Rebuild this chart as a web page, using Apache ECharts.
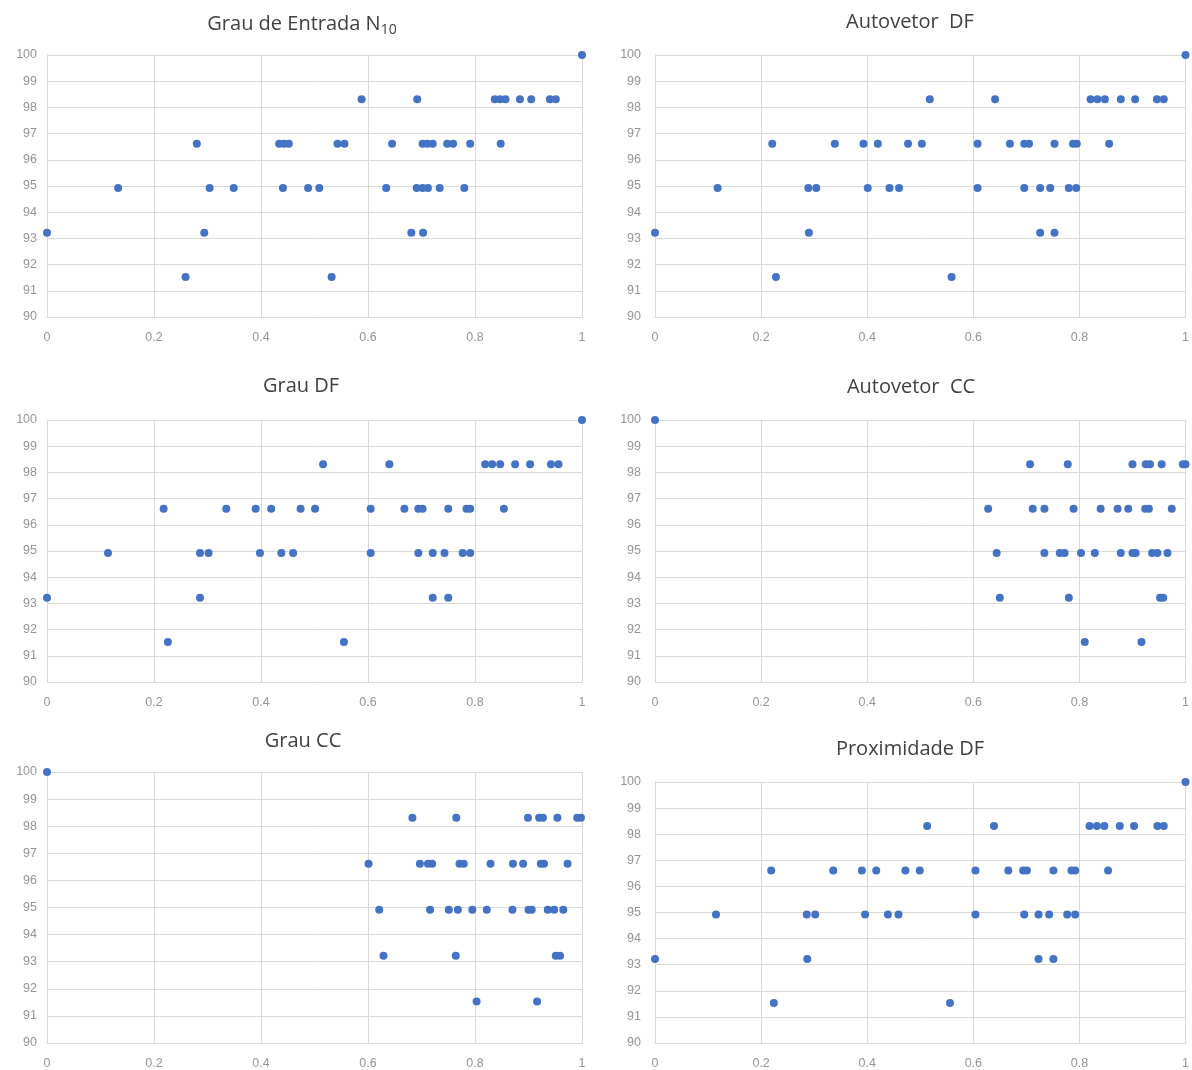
<!DOCTYPE html>
<html>
<head>
<meta charset="utf-8">
<script src="https://cdn.jsdelivr.net/npm/echarts@6/dist/echarts.min.js"></script>
<style>
  html, body { margin: 0; padding: 0; background: #ffffff; }
  #chart { width: 1192px; height: 1070px; }
</style>
</head>
<body>
<div id="chart"></div>
<script>
// Accuracy levels (y values), one row of x-values per level in each chart below
const levels = [100, 98.31, 96.61, 94.92, 93.22, 91.53];

// x tick labels / y range
const xTicks = ['0', '0.2', '0.4', '0.6', '0.8', '1'];
const yMin = 90, yMax = 100;

// Grau de Entrada N10
const grauEntradaN10 = [
  [1],
  [0.588, 0.692, 0.837, 0.847, 0.857, 0.884, 0.905, 0.940, 0.951],
  [0.280, 0.434, 0.443, 0.452, 0.543, 0.556, 0.645, 0.702, 0.711, 0.721, 0.748, 0.759, 0.791, 0.848],
  [0.133, 0.304, 0.349, 0.441, 0.488, 0.509, 0.634, 0.691, 0.702, 0.712, 0.734, 0.780],
  [0, 0.294, 0.681, 0.703],
  [0.259, 0.532]
];

// Autovetor DF
const autovetorDF = [
  [1],
  [0.518, 0.641, 0.821, 0.834, 0.848, 0.878, 0.905, 0.946, 0.959],
  [0.221, 0.339, 0.393, 0.420, 0.477, 0.503, 0.608, 0.669, 0.696, 0.705, 0.753, 0.788, 0.795, 0.856],
  [0.118, 0.289, 0.304, 0.401, 0.442, 0.460, 0.608, 0.696, 0.726, 0.745, 0.780, 0.794],
  [0, 0.290, 0.726, 0.753],
  [0.228, 0.559]
];

// Grau DF
const grauDF = [
  [1],
  [0.516, 0.640, 0.819, 0.832, 0.847, 0.875, 0.903, 0.942, 0.956],
  [0.218, 0.335, 0.390, 0.419, 0.474, 0.501, 0.605, 0.668, 0.694, 0.702, 0.750, 0.784, 0.791, 0.854],
  [0.114, 0.286, 0.302, 0.398, 0.438, 0.460, 0.605, 0.694, 0.721, 0.743, 0.777, 0.791],
  [0, 0.286, 0.721, 0.750],
  [0.226, 0.555]
];

// Autovetor CC
const autovetorCC = [
  [0],
  [0.707, 0.778, 0.900, 0.925, 0.933, 0.955, 0.995, 1.0],
  [0.628, 0.712, 0.734, 0.789, 0.840, 0.872, 0.892, 0.924, 0.931, 0.974],
  [0.644, 0.734, 0.763, 0.772, 0.803, 0.829, 0.878, 0.900, 0.906, 0.937, 0.947, 0.966],
  [0.650, 0.780, 0.952, 0.958],
  [0.810, 0.917]
];

// Grau CC
const grauCC = [
  [0],
  [0.683, 0.765, 0.899, 0.920, 0.927, 0.954, 0.991, 0.998],
  [0.601, 0.697, 0.712, 0.720, 0.771, 0.779, 0.829, 0.871, 0.890, 0.923, 0.929, 0.973],
  [0.621, 0.716, 0.751, 0.768, 0.795, 0.822, 0.870, 0.900, 0.906, 0.936, 0.948, 0.965],
  [0.629, 0.764, 0.951, 0.959],
  [0.803, 0.916]
];

// Proximidade DF
const proximidadeDF = [
  [1],
  [0.513, 0.639, 0.819, 0.833, 0.847, 0.876, 0.903, 0.947, 0.959],
  [0.219, 0.336, 0.390, 0.417, 0.472, 0.499, 0.604, 0.666, 0.694, 0.701, 0.751, 0.785, 0.792, 0.854],
  [0.115, 0.286, 0.302, 0.396, 0.439, 0.459, 0.604, 0.696, 0.723, 0.743, 0.777, 0.792],
  [0, 0.287, 0.723, 0.751],
  [0.224, 0.556]
];

const titles = ['{a|Grau de Entrada N}{b|10}', 'Autovetor  DF', 'Grau DF', 'Autovetor  CC', 'Grau CC', 'Proximidade DF'];
const datasets = [grauEntradaN10, autovetorDF, grauDF, autovetorCC, grauCC, proximidadeDF];

// layout of each panel (pixels)
const panels = [
  { left: 47,  top: 55,  width: 535, height: 262, tx: 302, ty: 11,  ylm: 10 },
  { left: 655, top: 55,  width: 535, height: 262, tx: 910, ty: 12,  ylm: 14 },
  { left: 47,  top: 420, width: 535, height: 262, tx: 301, ty: 376, ylm: 10 },
  { left: 655, top: 420, width: 535, height: 262, tx: 911, ty: 377, ylm: 14 },
  { left: 47,  top: 772, width: 535, height: 274, tx: 303, ty: 731, ylm: 10 },
  { left: 655, top: 782, width: 535, height: 263, tx: 910, ty: 739, ylm: 14 }
];

function toPoints(rows) {
  const pts = [];
  rows.forEach((xs, i) => xs.forEach(x => pts.push([x, levels[i]])));
  return pts;
}

const gridColor = '#d9d9d9';
const titleColor = '#404040';
const labelStyle = { color: '#959595', fontSize: 12.5, fontFamily: 'Liberation Sans' };

const option = {
  animation: false,
  backgroundColor: '#ffffff',
  title: panels.map((p, i) => ({
    text: titles[i],
    left: p.tx,
    top: p.ty,
    textAlign: 'center',
    padding: 0,
    textStyle: {
      color: titleColor,
      fontSize: 20,
      fontWeight: 'normal',
      fontFamily: 'Open Sans',
      rich: {
        a: { color: titleColor, fontSize: 20, fontFamily: 'Open Sans', lineHeight: 26, verticalAlign: 'middle' },
        b: { color: titleColor, fontSize: 14, fontFamily: 'Open Sans', lineHeight: 14, verticalAlign: 'bottom' }
      }
    }
  })),
  grid: panels.map(p => ({ left: p.left, top: p.top, width: p.width, height: p.height, containLabel: false })),
  xAxis: panels.map((p, i) => ({
    type: 'value', gridIndex: i, min: 0, max: 1, interval: 0.2,
    axisLine: { show: true, lineStyle: { color: gridColor } },
    axisTick: { show: false },
    splitLine: { show: true, lineStyle: { color: gridColor, width: 1 } },
    axisLabel: Object.assign({ margin: 14, formatter: v => xTicks[Math.round(v / 0.2)] }, labelStyle)
  })),
  yAxis: panels.map((p, i) => ({
    type: 'value', gridIndex: i, min: yMin, max: yMax, interval: 1,
    axisLine: { show: true, lineStyle: { color: gridColor } },
    axisTick: { show: false },
    splitLine: { show: true, lineStyle: { color: gridColor, width: 1 } },
    axisLabel: Object.assign({ margin: p.ylm }, labelStyle)
  })),
  series: datasets.map((d, i) => ({
    type: 'scatter', xAxisIndex: i, yAxisIndex: i,
    symbolSize: 8, clip: false,
    itemStyle: { color: '#4472C4', opacity: 1 },
    data: toPoints(d)
  }))
};

const chart = echarts.init(document.getElementById('chart'), null, { renderer: 'canvas' });
chart.setOption(option);
</script>
</body>
</html>
